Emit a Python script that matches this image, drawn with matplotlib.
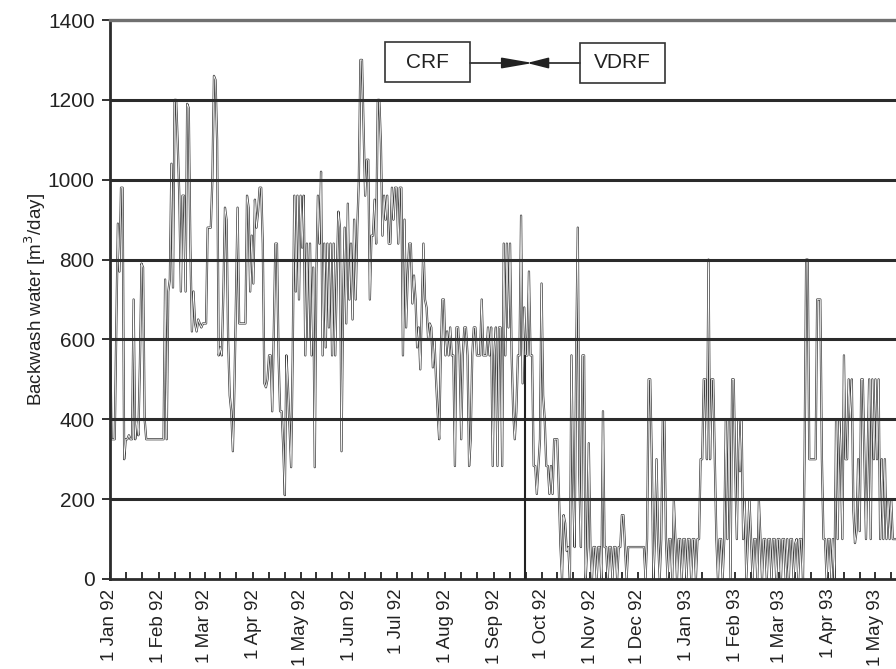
import matplotlib
matplotlib.use('Agg')
import matplotlib.pyplot as plt
import matplotlib.dates as mdates
import pandas as pd
from matplotlib.patches import Rectangle

# daily backwash water [m3/day], one list per month
jan92 = [630, 350, 350, 350, 630, 890, 770, 980, 980, 300, 350, 350, 360, 350, 350, 700,
         350, 400, 360, 540, 790, 780, 400, 350, 350, 350, 350, 350, 350, 350, 350]
feb92 = [350, 350, 350, 350, 750, 350, 720, 750, 1040, 730, 1200, 1200, 1090, 960, 720,
         960, 960, 720, 1190, 1180, 840, 620, 720, 640, 620, 650, 640, 630, 640]
mar92 = [640, 640, 880, 880, 880, 1000, 1260, 1250, 1100, 560, 580, 560, 720, 930, 900,
         600, 460, 420, 320, 480, 710, 930, 640, 640, 640, 640, 640, 960, 930, 720, 860]
apr92 = [740, 950, 880, 920, 980, 980, 840, 490, 480, 500, 560, 560, 420, 620, 840,
         840, 560, 420, 420, 330, 210, 560, 480, 380, 280, 560, 960, 720, 960, 700]
may92 = [960, 830, 960, 560, 840, 600, 840, 560, 780, 280, 760, 960, 840, 1020, 560, 840,
         580, 840, 630, 840, 560, 840, 560, 760, 920, 880, 320, 700, 880, 640, 940]
jun92 = [700, 840, 650, 900, 700, 880, 1000, 1300, 1300, 1130, 960, 1050, 1050, 700, 860,
         860, 950, 840, 1200, 1200, 1090, 860, 960, 900, 960, 840, 840, 980, 900, 980]
jul92 = [980, 840, 980, 980, 560, 900, 630, 760, 840, 840, 690, 760, 700, 580, 630, 525,
         680, 840, 700, 680, 600, 640, 630, 530, 600, 500, 420, 350, 560, 700, 700]
aug92 = [560, 620, 560, 630, 560, 560, 283, 630, 630, 560, 350, 560, 630, 630, 560, 283,
         350, 560, 630, 630, 560, 560, 560, 700, 560, 560, 560, 630, 560, 630, 283]
sep92 = [560, 630, 283, 630, 630, 283, 840, 560, 840, 630, 840, 560, 420, 350, 420,
         560, 560, 910, 490, 680, 560, 560, 770, 560, 560, 283, 283, 213, 283, 350]
oct92 = [740, 460, 400, 283, 283, 213, 283, 213, 350, 350, 350, 213, 83, 0, 160, 140,
         70, 80, 0, 560, 240, 80, 560, 880, 260, 80, 560, 560, 0, 80, 340]
nov92 = [80, 0, 80, 80, 0, 80, 80, 0, 420, 80, 80, 0, 80, 80, 0,
         80, 80, 0, 80, 80, 160, 160, 80, 0, 80, 80, 80, 80, 80, 80]
dec92 = [80, 80, 80, 80, 80, 0, 100, 500, 500, 300, 0, 100, 300, 100, 0, 100,
         400, 400, 100, 0, 100, 100, 0, 196, 100, 0, 100, 100, 0, 100, 100]
jan93 = [0, 100, 100, 0, 100, 100, 0, 100, 100, 300, 300, 500, 500, 300, 800, 300,
         500, 500, 300, 100, 0, 100, 100, 0, 100, 400, 100, 400, 0, 500, 500]
feb93 = [270, 100, 400, 270, 400, 100, 200, 0, 100, 200, 100, 0, 100, 100,
         0, 196, 100, 0, 100, 100, 0, 100, 100, 0, 100, 100, 0, 100]
mar93 = [100, 0, 100, 100, 0, 100, 0, 100, 100, 0, 88, 100, 0, 100, 100, 0,
         300, 800, 800, 300, 300, 300, 300, 300, 700, 700, 700, 300, 100, 100, 0]
apr93 = [100, 100, 0, 100, 0, 400, 100, 400, 300, 100, 560, 300, 300, 500, 400,
         500, 170, 90, 120, 300, 120, 500, 500, 300, 100, 300, 500, 100, 500, 300]
may93 = [500, 300, 500, 100, 300, 100, 300, 100, 200, 100, 200, 100, 100, 100]

yticks = [0, 200, 400, 600, 800, 1000, 1200, 1400]
switch_date = '1992-09-20 12:00'   # change from CRF to VDRF
switch_top = 560

values = (jan92 + feb92 + mar92 + apr92 + may92 + jun92 + jul92 + aug92 + sep92 +
          oct92 + nov92 + dec92 + jan93 + feb93 + mar93 + apr93 + may93)
dates = pd.date_range('1992-01-01', periods=len(values), freq='D')

plt.rcParams['font.family'] = 'Liberation Sans'
plt.rcParams['text.color'] = '#222222'
plt.rcParams['axes.labelcolor'] = '#222222'
plt.rcParams['xtick.color'] = '#222222'
plt.rcParams['ytick.color'] = '#222222'

W, H = 896, 669
fig = plt.figure(figsize=(W / 100, H / 100), dpi=100)
ax = fig.add_axes([110 / W, 90 / H, 786 / W, 559 / H])

px_per_day = 1.575
start = pd.Timestamp('1992-01-01')
ax.set_xlim(start, start + pd.Timedelta(days=786 / px_per_day))
ax.set_ylim(0, 1400)

# hollow looking line: dark stroke with a light core
ax.plot(dates, values, color='#404040', lw=1.6, solid_joinstyle='round', zorder=2)
ax.plot(dates, values, color='white', lw=0.55, solid_joinstyle='round', zorder=2.1)

for v in yticks[1:-1]:
    ax.axhline(v, color='#2b2b2b', lw=2.2, zorder=3)
ax.vlines(pd.Timestamp(switch_date), 0, switch_top, color='#222222', lw=1.5, zorder=3)

ax.spines['right'].set_visible(False)
ax.spines['top'].set_color('#707070')
ax.spines['top'].set_linewidth(2.4)
for s in ['left', 'bottom']:
    ax.spines[s].set_color('#2b2b2b')
    ax.spines[s].set_linewidth(2.0)

ax.set_yticks(yticks)
ax.tick_params(axis='y', direction='out', length=6, width=1.3, labelsize=15, pad=5)

ax.xaxis.set_major_locator(mdates.MonthLocator(bymonthday=1))
ax.xaxis.set_minor_locator(mdates.DayLocator(bymonthday=[11, 21]))
ax.xaxis.set_major_formatter(mdates.DateFormatter('1 %b %y'))
ax.tick_params(axis='x', which='both', direction='in', length=5, width=1.3)
ax.tick_params(axis='x', which='major', labelsize=13.5, labelrotation=90, pad=7)

ax.set_ylabel('Backwash water [m$^3$/day]', fontsize=13.5)
ax.yaxis.set_label_coords((48 - 110) / 786, 0.5)


def fx(px):
    return px / W


def fy(py):
    return 1 - py / H


# CRF -> <- VDRF annotation
for (x0, y0, x1, y1, label) in [(385, 42, 470, 82, 'CRF'), (580, 43, 665, 83, 'VDRF')]:
    fig.add_artist(Rectangle((fx(x0), fy(y1)), (x1 - x0) / W, (y1 - y0) / H,
                             transform=fig.transFigure, fill=False,
                             ec='#333333', lw=1.2))
    fig.text(fx((x0 + x1) / 2), fy((y0 + y1) / 2), label, ha='center', va='center',
             fontsize=15)

ax.annotate('', xy=(fx(533), fy(63)), xytext=(fx(470), fy(63)),
            xycoords='figure fraction', textcoords='figure fraction',
            arrowprops=dict(arrowstyle='-|>,head_length=1.9,head_width=0.33',
                            color='#222222', lw=1.2, mutation_scale=10,
                            shrinkA=0, shrinkB=0))
ax.annotate('', xy=(fx(527), fy(63)), xytext=(fx(580), fy(63)),
            xycoords='figure fraction', textcoords='figure fraction',
            arrowprops=dict(arrowstyle='-|>,head_length=1.3,head_width=0.33',
                            color='#222222', lw=1.2, mutation_scale=10,
                            shrinkA=0, shrinkB=0))

fig.savefig('out.png', dpi=100)
